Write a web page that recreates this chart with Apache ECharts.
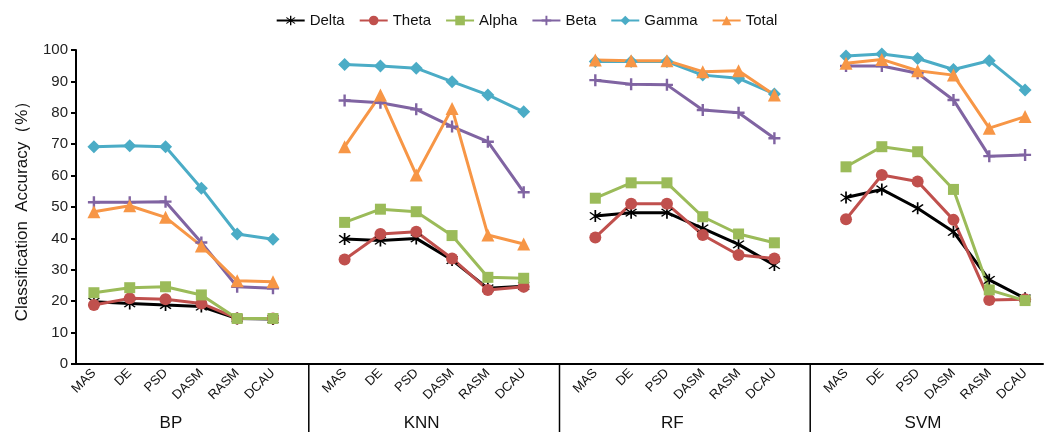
<!DOCTYPE html>
<html>
<head>
<meta charset="utf-8">
<title>Classification Accuracy</title>
<script src="https://cdn.jsdelivr.net/npm/echarts@6/dist/echarts.min.js"></script>
<style>
    html, body { margin: 0; padding: 0; background: #fff; }
    #chart { width: 1053px; height: 432px; }
</style>
</head>
<body>
<div id="chart"></div>
<script>
    // 特征名称和分类器
    var categories = ['MAS', 'DE', 'PSD', 'DASM', 'RASM', 'DCAU'];
    var groups = ['BP', 'KNN', 'RF', 'SVM'];
    var yTicks = [0, 100, 10];

    // 每个频带: BP, KNN, RF, SVM
    var delta = [
        [19.8, 19.3, 18.8, 18.3, 14.5, 14.3],
        [39.8, 39.3, 40.0, 33.1, 24.1, 24.8],
        [47.1, 48.2, 48.2, 43.2, 38.1, 31.5],
        [53.0, 55.6, 49.6, 42.1, 26.8, 20.9]
    ];
    var theta = [
        [18.8, 20.9, 20.6, 19.3, 14.5, 14.5],
        [33.3, 41.4, 42.1, 33.6, 23.6, 24.6],
        [40.3, 51.0, 51.0, 41.1, 34.7, 33.6],
        [46.1, 60.2, 58.1, 45.9, 20.4, 20.6]
    ];
    var alpha = [
        [22.7, 24.3, 24.6, 22.0, 14.5, 14.5],
        [45.1, 49.3, 48.5, 40.9, 27.6, 27.3],
        [52.8, 57.7, 57.7, 46.9, 41.4, 38.6],
        [62.8, 69.2, 67.6, 55.6, 23.6, 20.2]
    ];
    var beta = [
        [51.5, 51.5, 51.7, 38.7, 24.6, 24.1],
        [83.9, 83.2, 81.1, 75.6, 70.8, 54.7],
        [90.4, 89.1, 88.9, 80.9, 80.0, 71.9],
        [94.9, 94.9, 92.6, 84.1, 66.2, 66.6]
    ];
    var gamma = [
        [69.2, 69.5, 69.2, 56.0, 41.4, 39.7],
        [95.4, 94.9, 94.2, 89.9, 85.7, 80.3],
        [96.3, 96.3, 96.3, 92.0, 91.0, 86.0],
        [98.1, 98.7, 97.3, 93.8, 96.6, 87.3]
    ];
    var total = [
        [48.5, 50.4, 46.7, 37.6, 26.5, 26.2],
        [69.2, 85.7, 60.2, 81.4, 41.1, 38.2],
        [96.8, 96.6, 96.6, 93.1, 93.4, 85.7],
        [95.8, 97.0, 93.4, 92.0, 75.1, 78.8]
    ];

    var ASTERISK = 'path://M9,0H11V20H9Z M3,4.4L4.4,3L17,15.6L15.6,17Z M15.6,3L17,4.4L4.4,17L3,15.6Z';
    var PLUS = 'path://M8,0H12V8H20V12H12V20H8V12H0V8H8Z';
    var FONT = 'Liberation Sans, Arial, sans-serif';

    // 分组之间插入一个空类目, 折线在空类目处断开
    function buildAxis() {
        var list = [];
        for (var g = 0; g < groups.length; g++) {
            if (g > 0) list.push('');
            for (var i = 0; i < categories.length; i++) list.push(categories[i]);
        }
        return list;
    }

    function buildData(values) {
        var list = [];
        for (var g = 0; g < values.length; g++) {
            if (g > 0) list.push(null);
            for (var i = 0; i < values[g].length; i++) list.push(values[g][i]);
        }
        return list;
    }

    function makeSeries(name, values, color, symbol, size) {
        return {
            name: name,
            type: 'line',
            data: buildData(values),
            connectNulls: false,
            symbol: symbol,
            symbolSize: size,
            showAllSymbol: true,
            lineStyle: { color: color, width: 3 },
            itemStyle: { color: color },
            emphasis: { disabled: true }
        };
    }

    var chart = echarts.init(document.getElementById('chart'));
    var option = {
        animation: false,
        textStyle: { fontFamily: FONT },
        legend: {
            top: 8,
            left: 'center',
            itemWidth: 28,
            itemHeight: 12,
            itemGap: 14,
            textStyle: { fontSize: 15, color: '#111', fontFamily: FONT },
            data: ['Delta', 'Theta', 'Alpha', 'Beta', 'Gamma', 'Total']
        },
        grid: { left: 76, right: 10, top: 50, bottom: 68 },
        xAxis: {
            type: 'category',
            data: buildAxis(),
            boundaryGap: true,
            axisLine: { lineStyle: { color: '#000', width: 2 } },
            axisTick: { interval: 0, length: 5, lineStyle: { color: '#000', width: 2 } },
            axisLabel: { interval: 0, rotate: 45, margin: 7, fontSize: 13, color: '#111', fontFamily: FONT },
            splitLine: { show: false }
        },
        yAxis: {
            type: 'value',
            min: yTicks[0],
            max: yTicks[1],
            interval: yTicks[2],
            name: 'Classification  Accuracy（%）',
            nameLocation: 'middle',
            nameGap: 45,
            nameTextStyle: { fontSize: 17, color: '#111', fontFamily: FONT },
            axisLine: { show: true, lineStyle: { color: '#000', width: 2 } },
            axisTick: { show: true, length: 5, lineStyle: { color: '#000', width: 2 } },
            axisLabel: { fontSize: 15, color: '#222', margin: 8, fontFamily: FONT },
            splitLine: { show: false }
        },
        series: [
            makeSeries('Delta', delta, '#000000', ASTERISK, 12),
            makeSeries('Theta', theta, '#C0504D', 'circle', 12),
            makeSeries('Alpha', alpha, '#9BBB59', 'rect', 11),
            makeSeries('Beta', beta, '#8064A2', PLUS, 12),
            makeSeries('Gamma', gamma, '#4BACC6', 'diamond', 13),
            makeSeries('Total', total, '#F79646', 'triangle', 13)
        ]
    };
    chart.setOption(option);

    // 分组分隔线和分组名称
    var step = chart.convertToPixel({ xAxisIndex: 0 }, 1) - chart.convertToPixel({ xAxisIndex: 0 }, 0);
    var x0 = chart.convertToPixel({ xAxisIndex: 0 }, 0);
    var yBase = chart.convertToPixel({ yAxisIndex: 0 }, 0);
    var elements = [];
    var span = categories.length + 1;
    for (var g = 0; g < groups.length; g++) {
        if (g > 0) {
            var sx = x0 + (g * span - 1) * step;
            elements.push({
                type: 'line',
                shape: { x1: sx, y1: yBase, x2: sx, y2: 432 },
                style: { stroke: '#000', lineWidth: 1.5 }
            });
        }
        elements.push({
            type: 'text',
            x: x0 + (g * span + 2.15) * step,
            y: yBase + 59,
            style: {
                text: groups[g],
                fontSize: 17,
                fontFamily: FONT,
                fill: '#111',
                align: 'center',
                verticalAlign: 'middle'
            }
        });
    }
    chart.setOption({ graphic: elements });
</script>
</body>
</html>
